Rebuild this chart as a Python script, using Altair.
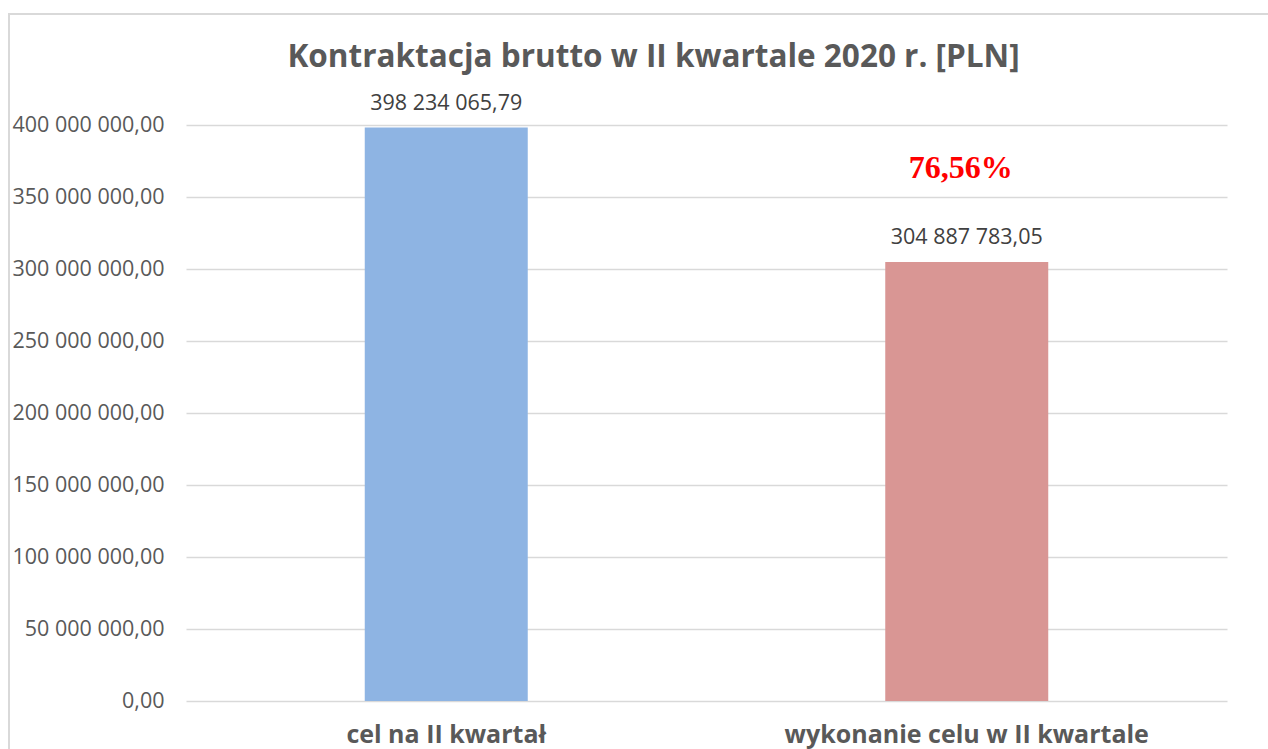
import altair as alt
import pandas as pd

categories = ["cel na II kwartał", "wykonanie celu w II kwartale"]
values = [398234065.79, 304887783.05]
colors = ["#8EB4E3", "#D99694"]
pct_label = "76,56%"
pct_anchor = 370000000
title_text = "Kontraktacja brutto w II kwartale 2020 r. [PLN]"

def pl_fmt(v):
    s = f"{v:,.2f}"
    return s.replace(",", " ").replace(".", ",")

df = pd.DataFrame({"cat": categories, "val": values, "color": colors,
                   "lbl": [pl_fmt(v) for v in values]})
ann = pd.DataFrame({"cat": [categories[1]], "val": [pct_anchor], "lbl": [pct_label]})

FONT = "Open Sans"

x = alt.X("cat:N", sort=categories, title=None,
          scale=alt.Scale(paddingInner=0, paddingOuter=0),
          axis=alt.Axis(labelAngle=0, labelFont=FONT, labelFontSize=25,
                        labelFontWeight="bold", labelColor="#595959",
                        labelPadding=21, labelLimit=0, ticks=False, domain=False))
y = alt.Y("val:Q", title=None,
          scale=alt.Scale(domain=[0, 400000000], nice=False),
          axis=alt.Axis(values=list(range(0, 400000001, 50000000)),
                        labelExpr="replace(replace(format(datum.value, ',.2f'), regexp(',', 'g'), ' '), '.', ',')",
                        labelFont=FONT, labelFontSize=21.5, labelColor="#595959",
                        labelPadding=22, ticks=False, domain=False,
                        grid=True, gridColor="#D9D9D9", gridWidth=1.5))

base = alt.Chart(df)

bars = base.mark_bar(size=163).encode(
    x=x, y=y,
    color=alt.Color("color:N", scale=None),
)

labels = base.mark_text(dy=-24, font=FONT, fontSize=21.5, color="#404040").encode(
    x=alt.X("cat:N", sort=categories),
    y="val:Q",
    text="lbl:N",
)

pct = alt.Chart(ann).mark_text(font="Liberation Serif", fontSize=32,
                               fontWeight="bold", color="#FF0000", dx=-6).encode(
    x=alt.X("cat:N", sort=categories),
    y="val:Q",
    text="lbl:N",
)

border = alt.Chart(pd.DataFrame({"a": [0]})).mark_rect(
    fill=None, stroke="#D9D9D9", strokeWidth=2).encode(
    x=alt.value(-177), x2=alt.value(1100), y=alt.value(-111), y2=alt.value(700))

chart = alt.layer(border, bars, labels, pct).properties(
    width=1041, height=576,
    title=alt.TitleParams(title_text, font=FONT, fontSize=31.5, fontWeight="bold",
                          color="#595959", anchor="middle", offset=-60, dx=-53),
    autosize=alt.AutoSizeParams(type="none"),
    padding={"left": 186, "top": 125, "right": 41, "bottom": 48},
).configure(background="white", view=alt.ViewConfig(strokeWidth=0, strokeOpacity=0))

chart.save("out.html", embed_options={"renderer": "svg", "actions": False})
